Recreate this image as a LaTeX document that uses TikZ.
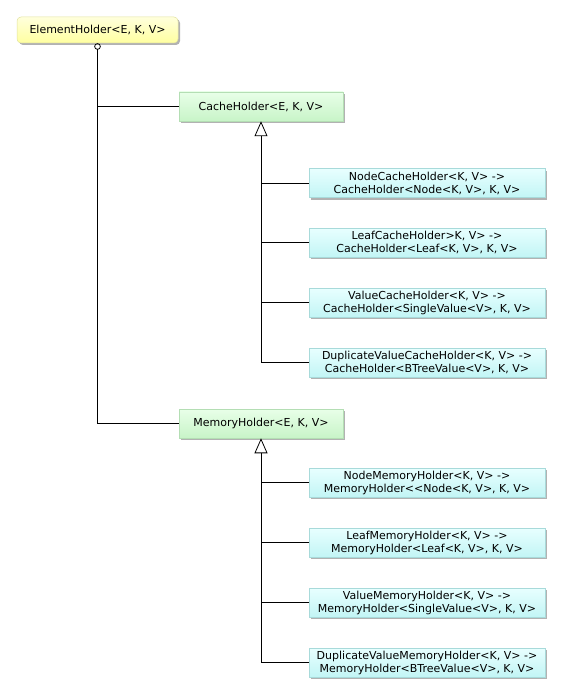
\documentclass[tikz,border=0pt]{standalone}
\usepackage{fontspec}
\setmainfont{DejaVu Sans}
\usetikzlibrary{arrows.meta,shadows}
\definecolor{ytop}{HTML}{FFFFDC}
\definecolor{ybot}{HTML}{FFFFA0}
\definecolor{ybord}{HTML}{E2E2A0}
\definecolor{gtop}{HTML}{E8FFE8}
\definecolor{gbot}{HTML}{C8F4C8}
\definecolor{gbord}{HTML}{B4DEB4}
\definecolor{ctop}{HTML}{E8FFFF}
\definecolor{cbot}{HTML}{C2F5F5}
\definecolor{cbord}{HTML}{A8DADA}
\tikzset{
  boxbase/.style={draw, line width=0.5pt, align=center, inner sep=0pt,
    font=\fontsize{11}{13}\selectfont,
    drop shadow={shadow xshift=2pt, shadow yshift=-2pt, opacity=0.3, fill=black}},
  ybox/.style={boxbase, draw=ybord, top color=ytop, bottom color=ybot, rounded corners=4pt,
    minimum width=161pt, minimum height=26pt},
  gbox/.style={boxbase, draw=gbord, top color=gtop, bottom color=gbot,
    minimum width=164pt, minimum height=29pt},
  cbox/.style={boxbase, draw=cbord, top color=ctop, bottom color=cbot,
    minimum width=236pt, minimum height=29pt},
  conn/.style={draw=black, line width=0.8pt},
  inherit/.style={conn, -{Triangle[open, length=15pt, width=13pt, line width=0.8pt]}},
  contain/.style={conn, {Circle[open, length=6.5pt, line width=0.8pt]}-}
}
\begin{document}
\begin{tikzpicture}[x=1pt,y=-1pt]
\useasboundingbox (0,0) rectangle (563,695);
\node[ybox] (eh) at (97.5,30) {ElementHolder<E, K, V>};
\node[gbox] (ch) at (261,106.5) {CacheHolder<E, K, V>};
\node[gbox] (mh) at (261,423.5) {MemoryHolder<E, K, V>};
\node[cbox] (c1) at (427,183) {NodeCacheHolder<K, V> ->\\CacheHolder<Node<K, V>, K, V>};
\node[cbox] (c2) at (427,242.5) {LeafCacheHolder>K, V> ->\\CacheHolder<Leaf<K, V>, K, V>};
\node[cbox] (c3) at (427,302.5) {ValueCacheHolder<K, V> ->\\CacheHolder<SingleValue<V>, K, V>};
\node[cbox] (c4) at (427,362.5) {DuplicateValueCacheHolder<K, V> ->\\CacheHolder<BTreeValue<V>, K, V>};
\node[cbox] (m1) at (427,482.5) {NodeMemoryHolder<K, V> ->\\MemoryHolder<{}<Node<K, V>, K, V>};
\node[cbox] (m2) at (427,542.5) {LeafMemoryHolder<K, V> ->\\MemoryHolder<Leaf<K, V>, K, V>};
\node[cbox] (m3) at (427,602.5) {ValueMemoryHolder<K, V> ->\\MemoryHolder<SingleValue<V>, K, V>};
\node[cbox] (m4) at (427,662.5) {DuplicateValueMemoryHolder<K, V> ->\\MemoryHolder<BTreeValue<V>, K, V>};
% containment
\draw[contain] (eh.south) |- (mh.west);
\draw[conn] (eh.south |- ch.west) -- (ch.west);
% cache inheritance
\draw[inherit] (ch.south |- c4.west) -- (ch.south);
\foreach \n in {c1,c2,c3,c4} \draw[conn] (ch.south |- \n.west) -- (\n.west);
% memory inheritance
\draw[inherit] (mh.south |- m4.west) -- (mh.south);
\foreach \n in {m1,m2,m3,m4} \draw[conn] (mh.south |- \n.west) -- (\n.west);
\end{tikzpicture}
\end{document}
